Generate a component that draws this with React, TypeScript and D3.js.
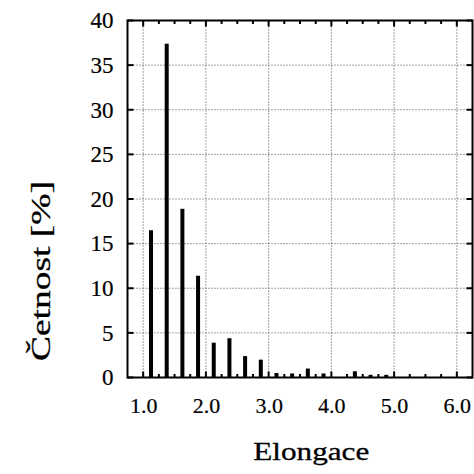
import React from "react";
import * as d3 from "d3";

const binCenters = [1.125, 1.375, 1.625, 1.875, 2.125, 2.375, 2.625, 2.875, 3.125, 3.375, 3.625, 3.875, 4.125, 4.375, 4.625, 4.875];
const frequencies = [16.5, 37.4, 18.9, 11.4, 3.9, 4.4, 2.4, 2.0, 0.5, 0.45, 1.0, 0.45, 0, 0.7, 0.3, 0.3];
const xTickValues = [1, 2, 3, 4, 5, 6];
const xTickLabels = ["1.0", "2.0", "3.0", "4.0", "5.0", "6.0"];
const yTickValues = [0, 5, 10, 15, 20, 25, 30, 35, 40];
const xTitle = "Elongace";
const yTitle = "Četnost [%]";

const W = 474;
const H = 474;
const left = 127.5, right = 472.5, top = 20.5, bottom = 377.5;

export default function App() {
  const x = d3.scaleLinear().domain([0.75, 6.25]).range([left, right]);
  const y = d3.scaleLinear().domain([0, 40]).range([bottom, top]);
  const minorX = d3.range(1, 6.01, 0.25);
  const gridX = xTickValues;
  const gridY = yTickValues.filter((v) => v > 0 && v < 40);

  return (
    <svg width={W} height={H} style={{ position: "absolute", left: 0, top: 0, background: "#fff" }}>
      <style>{`.tt { font-family: "Times New Roman"; }`}</style>
      <rect x={0} y={0} width={W} height={H} fill="#fff" />
      {gridX.map((v) => (
        <line key={"gx" + v} x1={x(v)} x2={x(v)} y1={top} y2={bottom} stroke="#444" strokeWidth={1} strokeDasharray="1,2" />
      ))}
      {gridY.map((v) => (
        <line key={"gy" + v} x1={left} x2={right} y1={y(v)} y2={y(v)} stroke="#444" strokeWidth={1} strokeDasharray="1,2" />
      ))}
      {binCenters.map((c, i) =>
        frequencies[i] > 0 ? (
          <rect key={"b" + i} x={x(c) - 2} width={4} y={y(frequencies[i])} height={y(0) - y(frequencies[i])} fill="#000" />
        ) : null
      )}
      {minorX.map((v) => {
        const major = Math.abs(v - Math.round(v)) < 1e-6;
        const len = major ? 6 : 3.5;
        return (
          <g key={"xt" + v}>
            <line x1={x(v)} x2={x(v)} y1={bottom} y2={bottom - len} stroke="#000" strokeWidth={2} />
            <line x1={x(v)} x2={x(v)} y1={top} y2={top + len} stroke="#000" strokeWidth={2} />
          </g>
        );
      })}
      {yTickValues.map((v) => (
        <g key={"yt" + v}>
          <line x1={left} x2={left + 6} y1={y(v)} y2={y(v)} stroke="#000" strokeWidth={2} />
          <line x1={right} x2={right - 6} y1={y(v)} y2={y(v)} stroke="#000" strokeWidth={2} />
        </g>
      ))}
      <rect x={left} y={top} width={right - left} height={bottom - top} fill="none" stroke="#000" strokeWidth={2} />
      {xTickValues.map((v, i) => (
        <text key={"xl" + v} className="tt" x={x(v) + 0.5} y={412.7} textAnchor="middle" fontSize={22} style={{ fontFamily: "Times New Roman" }} fill="#000" stroke="#000" strokeWidth={0.2}>
          {xTickLabels[i]}
        </text>
      ))}
      {yTickValues.map((v) => (
        <text key={"yl" + v} className="tt" x={113.5} y={y(v)} dy="0.34em" textAnchor="end" fontSize={23} style={{ fontFamily: "Times New Roman" }} fill="#000" stroke="#000" strokeWidth={0.2}>
          {v}
        </text>
      ))}
      <text className="tt" x={311.3} y={459.5} textAnchor="middle" textLength={116} lengthAdjust="spacingAndGlyphs" fontSize={26} fill="#000" stroke="#000" strokeWidth={0.3}>
        {xTitle}
      </text>
      <text className="tt" transform={`translate(50,271) rotate(-90)`} textAnchor="middle" textLength={180} lengthAdjust="spacingAndGlyphs" fontSize={27} fill="#000" stroke="#000" strokeWidth={0.3}>
        {yTitle}
      </text>
    </svg>
  );
}
